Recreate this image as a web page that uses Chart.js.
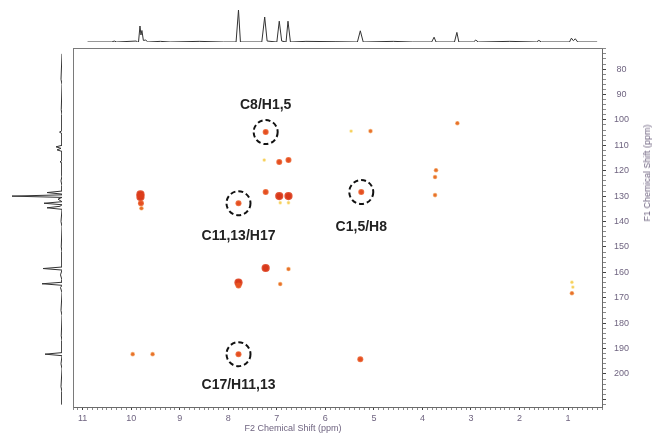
<!DOCTYPE html>
<html>
<head>
<meta charset="utf-8">
<script src="https://cdn.jsdelivr.net/npm/chart.js@4.4.1/dist/chart.umd.min.js"></script>
<style>
  html, body { margin: 0; padding: 0; background: #fff; }
  #wrap { position: relative; width: 653px; height: 437px; overflow: hidden; font-family: Arial, 'Liberation Sans', sans-serif; }
  canvas { position: absolute; left: 0; top: 0; }
  .axisTitle { position: absolute; font-size: 9px; color: #6f6480; white-space: nowrap; transform: translate(-50%, -50%); }
  #yTitle { transform: translate(-50%, -50%) rotate(-90deg); }
</style>
</head>
<body>
<div id="wrap">
  <canvas id="mainChart" width="653" height="437"></canvas>
  <canvas id="topChart" width="653" height="48"></canvas>
  <canvas id="leftChart" width="73" height="437"></canvas>
  <div class="axisTitle" id="xTitle" style="left:293px; top:428px;">F2 Chemical Shift (ppm)</div>
  <div class="axisTitle" id="yTitle" style="left:647px; top:173px;">F1 Chemical Shift (ppm)</div>
</div>
<script>
// axis ranges (ppm) and tick labels
const f2Range = [0.3, 11.2];
const f1Range = [71.7, 213];
const f2TickLabels = [11, 10, 9, 8, 7, 6, 5, 4, 3, 2, 1];
const f1TickLabels = [80, 90, 100, 110, 120, 130, 140, 150, 160, 170, 180, 190, 200];

// HMBC cross peaks: F2 (1H) shift, F1 (13C) shift, intensity level 1..4
const peakF2 = [7.23, 7.26, 6.95, 6.76, 9.81, 9.81, 9.80, 9.79, 7.23, 6.95, 6.76, 6.93, 6.76, 7.79, 5.26,
                7.23, 6.76, 7.79, 7.79, 6.93, 9.97, 9.56, 7.79, 5.28, 5.47, 5.07, 3.28, 3.72, 3.74, 3.74,
                0.92, 0.90, 0.92];
const peakF1 = [104.8, 115.8, 116.6, 115.8, 129.3, 130.3, 132.8, 134.8, 128.4, 130.0, 130.0, 132.6, 132.6, 132.8, 128.4,
                158.3, 158.7, 164.0, 165.2, 164.6, 192.2, 192.2, 192.2, 194.2, 104.4, 104.4, 101.3, 119.8, 122.5, 129.6,
                163.9, 165.8, 168.2];
const peakLevel = [3, 1, 3, 3, 4, 4, 3, 2, 3, 4, 4, 1, 1, 3, 3,
                   4, 2, 4, 3, 2, 2, 2, 3, 3, 1, 2, 2, 2, 2, 2,
                   1, 1, 2];

// circled assignments
const circleF2 = [7.23, 7.79, 5.26, 7.79];
const circleF1 = [104.8, 132.8, 128.4, 192.2];
const circleLabels = ['C8/H1,5', 'C11,13/H17', 'C1,5/H8', 'C17/H11,13'];

// 1H projection (top)
const topShift =     [10.9, 10.4, 10.35, 10.3, 9.90, 9.87, 9.85, 9.82, 9.80, 9.78, 9.75, 9.70, 9.66, 9.40, 9.20, 8.60, 8.10,
                      7.84, 7.79, 7.75, 7.31, 7.25, 7.20, 7.00, 6.95, 6.90, 6.81, 6.77, 6.72, 6.40, 5.80,
                      5.34, 5.28, 5.22, 4.60, 4.2, 3.81, 3.76, 3.72, 3.34, 3.29, 3.25, 2.95, 2.90, 2.85, 2.2, 1.65,
                      1.60, 1.55, 0.97, 0.93, 0.89, 0.85, 0.80, 0.40];
const topIntensity = [0, 0, 3, 0, 3, 0, 0, 50, 22, 36, 5, 6, 0, 2, 0, 2, 0,
                      0, 100, 0, 0, 78, 3, 0, 65, 3, 0, 65, 0, 2, 1,
                      0, 35, 0, 2, 0, 0, 15, 0, 0, 30, 0, 0, 6, 0, 2, 0,
                      5, 0, 0, 12, 4, 10, 0, 0];

// 13C projection (left)
const leftShift =     [74, 84, 86, 96, 98, 104.2, 104.8, 105.4, 110, 110.6, 111.2, 111.8, 112.4, 116, 116.5, 117,
                       122, 124, 126, 128, 128.6, 129.2, 129.5, 130.0, 130.5, 131.2, 132.2, 132.8, 133.4, 134.0,
                       134.6, 135.2, 140, 142, 150, 152, 157.9, 158.5, 159.1, 161, 163, 163.9, 164.5, 165.1, 166,
                       168, 175, 177, 185, 187, 191.6, 192.2, 192.8, 196, 198, 205, 207, 212];
const leftIntensity = [0, 2, 0, 1.5, 0, 0, 5, 0, 0, 12, 2, 10, 0, 0, 4, 0,
                       0, 2, 0, 0, 30, 0, 0, 100, 0, 8, 0, 36, 0, 4,
                       30, 0, 2, 0, 1.5, 0, 0, 38, 0, 3, 0, 0, 40, 0, 3,
                       0, 2, 0, 1.5, 0, 0, 34, 0, 2, 0, 2, 0, 0];

const levelCore = ['', '#f2c13c', '#dc4a22', '#c61d1b', '#a01018'];
const levelHalo = ['', 'rgba(250,220,120,0.55)', 'rgba(240,140,50,0.6)', 'rgba(234,88,34,0.85)', 'rgba(222,62,28,0.9)'];
const levelCoreR = [0, 1.2, 1.6, 2.1, 2.9];
const levelHaloR = [0, 1.9, 2.3, 3.0, 4.1];

const labelDy = [-27, 33, 35, 31];
const tickFont = { family: 'Arial, "Liberation Sans", sans-serif', size: 9 };
const tickGrey = '#6f6480';

const peakPoints = peakF2.map((x, i) => ({ x: x, y: peakF1[i] }));

const circlePlugin = {
    id: 'circlePlugin',
    beforeDatasetDraw(chart, args) {
        if (chart.data.datasets[args.index].label === 'circles') {
            chart.ctx.save();
            chart.ctx.setLineDash([5, 3]);
        }
    },
    afterDatasetDraw(chart, args) {
        if (chart.data.datasets[args.index].label === 'circles') {
            chart.ctx.restore();
        }
    },
    afterDatasetsDraw(chart) {
        const ctx = chart.ctx;
        const xs = chart.scales.x;
        const ys = chart.scales.y;
        ctx.save();
        ctx.font = 'bold 14px Arial, "Liberation Sans", sans-serif';
        ctx.fillStyle = '#222';
        ctx.textAlign = 'center';
        ctx.textBaseline = 'middle';
        circleLabels.forEach((txt, i) => {
            ctx.fillText(txt, xs.getPixelForValue(circleF2[i]), ys.getPixelForValue(circleF1[i]) + labelDy[i]);
        });
        ctx.restore();
    }
};

new Chart(document.getElementById('mainChart'), {
    type: 'scatter',
    data: {
        datasets: [
            {
                label: 'halo',
                data: peakPoints,
                pointRadius: ctx => levelHaloR[peakLevel[ctx.dataIndex]],
                pointBackgroundColor: ctx => levelHalo[peakLevel[ctx.dataIndex]],
                pointBorderWidth: 0
            },
            {
                label: 'core',
                data: peakPoints,
                pointRadius: ctx => levelCoreR[peakLevel[ctx.dataIndex]],
                pointBackgroundColor: ctx => levelCore[peakLevel[ctx.dataIndex]],
                pointBorderWidth: 0
            },
            {
                label: 'circles',
                data: circleF2.map((x, i) => ({ x: x, y: circleF1[i] })),
                pointRadius: 12,
                pointBackgroundColor: 'rgba(0,0,0,0)',
                pointBorderColor: '#111',
                pointBorderWidth: 2
            }
        ]
    },
    options: {
        responsive: false,
        animation: false,
        devicePixelRatio: 1,
        layout: { padding: { left: 73, top: 48, right: 0, bottom: 0 } },
        plugins: { legend: { display: false }, tooltip: { enabled: false } },
        events: [],
        scales: {
            x: {
                type: 'linear',
                position: 'bottom',
                reverse: true,
                min: f2Range[0],
                max: f2Range[1],
                afterBuildTicks: s => {
                    const t = [];
                    for (let i = 3; i <= 112; i++) t.push({ value: i / 10 });
                    s.ticks = t;
                },
                afterFit: s => { s.height = 30; },
                ticks: {
                    autoSkip: false,
                    maxRotation: 0,
                    minRotation: 0,
                    padding: 3,
                    font: tickFont,
                    color: tickGrey,
                    callback: v => (Number.isInteger(v) && f2TickLabels.includes(v)) ? String(v) : ''
                },
                grid: {
                    drawOnChartArea: false,
                    tickLength: 3,
                    tickColor: ctx => Number.isInteger(ctx.tick && ctx.tick.value) ? '#444' : '#8a8a8a'
                },
                border: { color: '#6a6a6a', width: 1 }
            },
            y: {
                type: 'linear',
                position: 'right',
                reverse: true,
                min: f1Range[0],
                max: f1Range[1],
                afterBuildTicks: s => {
                    const t = [];
                    for (let v = 72; v <= 212; v += 2) t.push({ value: v });
                    s.ticks = t;
                },
                afterFit: s => { s.width = 51; },
                ticks: {
                    autoSkip: false,
                    padding: 8,
                    crossAlign: 'center',
                    font: tickFont,
                    color: tickGrey,
                    callback: v => f1TickLabels.includes(v) ? String(v) : ''
                },
                grid: {
                    drawOnChartArea: false,
                    tickLength: 4,
                    tickColor: ctx => (ctx.tick && ctx.tick.value % 10 === 0) ? '#444' : '#8a8a8a'
                },
                border: { color: '#6a6a6a', width: 1 }
            },
            xTop: {
                type: 'linear',
                position: 'top',
                afterFit: s => { s.height = 0; },
                ticks: { display: false },
                grid: { display: false },
                border: { color: '#7a7a7a', width: 1 }
            },
            yLeft: {
                type: 'linear',
                position: 'left',
                afterFit: s => { s.width = 0; },
                ticks: { display: false },
                grid: { display: false },
                border: { color: '#7a7a7a', width: 1 }
            }
        }
    },
    plugins: [circlePlugin]
});

new Chart(document.getElementById('topChart'), {
    type: 'scatter',
    data: {
        datasets: [{
            data: topShift.map((x, i) => ({ x: x, y: topIntensity[i] })),
            showLine: true,
            borderColor: '#333',
            borderWidth: 1,
            pointRadius: 0,
            tension: 0
        }]
    },
    options: {
        responsive: false,
        animation: false,
        devicePixelRatio: 1,
        events: [],
        layout: { padding: { left: 73, right: 51, top: 10, bottom: 6 } },
        plugins: { legend: { display: false }, tooltip: { enabled: false } },
        scales: {
            x: { type: 'linear', reverse: true, min: f2Range[0], max: f2Range[1], display: false },
            y: { type: 'linear', min: 0, max: 100, display: false }
        }
    }
});

new Chart(document.getElementById('leftChart'), {
    type: 'scatter',
    data: {
        datasets: [{
            data: leftShift.map((y, i) => ({ x: leftIntensity[i], y: y })),
            showLine: true,
            borderColor: '#333',
            borderWidth: 1,
            pointRadius: 0,
            tension: 0
        }]
    },
    options: {
        responsive: false,
        animation: false,
        devicePixelRatio: 1,
        events: [],
        layout: { padding: { left: 12, right: 11, top: 48, bottom: 30 } },
        plugins: { legend: { display: false }, tooltip: { enabled: false } },
        scales: {
            x: { type: 'linear', reverse: true, min: 0, max: 100, display: false },
            y: { type: 'linear', reverse: true, min: f1Range[0], max: f1Range[1], display: false }
        }
    }
});
</script>
</body>
</html>
